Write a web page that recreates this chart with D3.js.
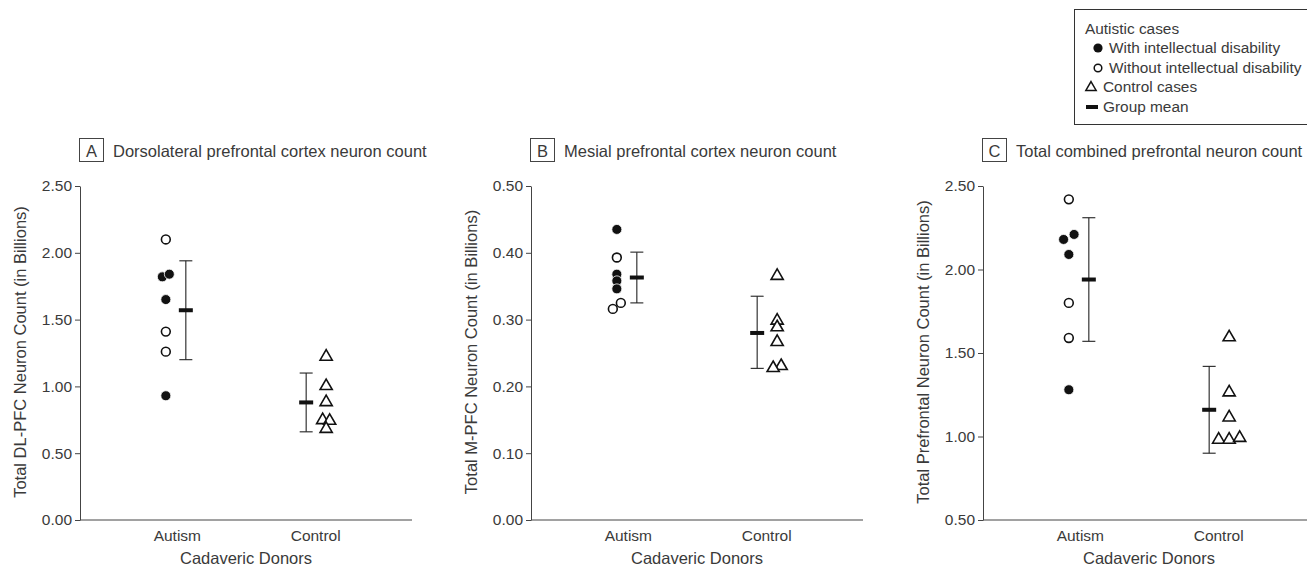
<!DOCTYPE html>
<html>
<head>
<meta charset="utf-8">
<script src="https://cdn.jsdelivr.net/npm/d3@7"></script>
<style>
  html, body { margin: 0; padding: 0; background: #fff; }
  svg { display: block; font-family: "Liberation Sans", Arial, sans-serif; }
</style>
</head>
<body>
<svg id="chart" width="1307" height="569"></svg>
<script>
// ---------- DATA ----------
const groups = ["Autism", "Control"];

// Panel A: Dorsolateral PFC (billions)
const aAutismWithID    = [1.82, 1.84, 1.65, 0.93];
const aAutismWithIDDodge = [-0.5, 0.5, 0, 0];
const aAutismWithoutID = [2.10, 1.41, 1.26];
const aAutismWithoutIDDodge = [0, 0, 0];
const aControl         = [1.23, 1.01, 0.89, 0.755, 0.75, 0.69];
const aControlDodge    = [0, 0, 0, -0.5, 0.5, 0];
const aMean  = [1.57, 0.88];
const aLow   = [1.20, 0.66];
const aHigh  = [1.94, 1.10];

// Panel B: Mesial PFC (billions)
const bAutismWithID    = [0.435, 0.368, 0.358, 0.346];
const bAutismWithIDDodge = [0, 0, 0, 0];
const bAutismWithoutID = [0.393, 0.325, 0.316];
const bAutismWithoutIDDodge = [0, 0.5, -0.5];
const bControl         = [0.367, 0.300, 0.290, 0.268, 0.232, 0.229];
const bControlDodge    = [0, 0, 0, 0, 0.5, -0.5];
const bMean  = [0.363, 0.280];
const bLow   = [0.325, 0.227];
const bHigh  = [0.401, 0.335];

// Panel C: Total combined PFC (billions)
const cAutismWithID    = [2.18, 2.21, 2.09, 1.28];
const cAutismWithIDDodge = [-0.5, 0.5, 0, 0];
const cAutismWithoutID = [2.42, 1.80, 1.59];
const cAutismWithoutIDDodge = [0, 0, 0];
const cControl         = [1.60, 1.27, 1.12, 0.987, 0.987, 0.998];
const cControlDodge    = [0, 0, 0, -1, 0, 1];
const cMean  = [1.94, 1.16];
const cLow   = [1.57, 0.90];
const cHigh  = [2.31, 1.42];

const aTicks = [0.00, 0.50, 1.00, 1.50, 2.00, 2.50];
const bTicks = [0.00, 0.10, 0.20, 0.30, 0.40, 0.50];
const cTicks = [0.50, 1.00, 1.50, 2.00, 2.50];

const titles = ["Dorsolateral prefrontal cortex neuron count",
                "Mesial prefrontal cortex neuron count",
                "Total combined prefrontal neuron count"];
const letters = ["A", "B", "C"];
const yLabels = ["Total DL-PFC Neuron Count (in Billions)",
                 "Total M-PFC Neuron Count (in Billions)",
                 "Total Prefrontal Neuron Count (in Billions)"];
const xLabel = "Cadaveric Donors";

const legendLines = ["Autistic cases", "With intellectual disability",
                     "Without intellectual disability", "Control cases", "Group mean"];

// ---------- LAYOUT ----------
const TEXT = "#3a3a3a";
const AXIS = "#444";
const svg = d3.select("#chart");

const panels = [
  { x0: 80,  domain: [0, 2.5], ticks: aTicks, withID: aAutismWithID, withIDd: aAutismWithIDDodge,
    withoutID: aAutismWithoutID, withoutIDd: aAutismWithoutIDDodge, ctrl: aControl, ctrld: aControlDodge,
    mean: aMean, low: aLow, high: aHigh, ylx: 26, slot: 7 },
  { x0: 531, domain: [0, 0.5], ticks: bTicks, withID: bAutismWithID, withIDd: bAutismWithIDDodge,
    withoutID: bAutismWithoutID, withoutIDd: bAutismWithoutIDDodge, ctrl: bControl, ctrld: bControlDodge,
    mean: bMean, low: bLow, high: bHigh, ylx: 477, slot: 8 },
  { x0: 983, domain: [0.5, 2.5], ticks: cTicks, withID: cAutismWithID, withIDd: cAutismWithIDDodge,
    withoutID: cAutismWithoutID, withoutIDd: cAutismWithoutIDDodge, ctrl: cControl, ctrld: cControlDodge,
    mean: cMean, low: cLow, high: cHigh, ylx: 929, slot: 10.5 }
];

const yTop = 186, yBot = 520, plotW = 332;
const R = 5;
const ptOff = [-11, 11];   // point column offset from category center
const meanOff = [9, -9];   // mean/error bar offset from category center

const tri = d3.symbol().type(d3.symbolTriangle).size(64);

panels.forEach((p, i) => {
  const g = svg.append("g");
  const x = d3.scalePoint().domain(groups).range([p.x0, p.x0 + plotW]).padding(0.7);
  const y = d3.scaleLinear().domain(p.domain).range([yBot, yTop]);

  // y axis
  const yAxis = d3.axisLeft(y).tickValues(p.ticks).tickFormat(d3.format(".2f")).tickSize(5).tickSizeOuter(0);
  const ya = g.append("g").attr("transform", `translate(${p.x0},0)`).call(yAxis);
  ya.select(".domain").attr("stroke", AXIS);
  ya.selectAll(".tick line").attr("stroke", AXIS);
  ya.selectAll(".tick text").attr("fill", TEXT).attr("font-size", 15.5).attr("x", -8)
    .style("font-family", "Liberation Sans, Arial, sans-serif");

  // x axis
  const xAxis = d3.axisBottom(x).tickSize(0).tickSizeOuter(0);
  const xa = g.append("g").attr("transform", `translate(0,${yBot})`).call(xAxis);
  xa.select(".domain").attr("stroke", AXIS).attr("d", `M${p.x0},0H${p.x0 + plotW}`);
  xa.selectAll(".tick text").attr("fill", TEXT).attr("font-size", 15.5).attr("dy", null).attr("y", 21)
    .style("font-family", "Liberation Sans, Arial, sans-serif");

  // x label
  g.append("text").attr("x", p.x0 + plotW / 2).attr("y", 564).attr("text-anchor", "middle")
    .attr("fill", TEXT).attr("font-size", 16.5).text(xLabel);
  // y label
  g.append("text").attr("transform", `translate(${p.ylx},${352}) rotate(-90)`)
    .attr("text-anchor", "middle").attr("fill", TEXT).attr("font-size", 16.5).text(yLabels[i]);

  // title
  g.append("rect").attr("x", p.x0 - 0.5).attr("y", 138.5).attr("width", 24).attr("height", 23)
    .attr("fill", "none").attr("stroke", "#444").attr("stroke-width", 1);
  g.append("text").attr("x", p.x0 + 11.5).attr("y", 156.5).attr("text-anchor", "middle")
    .attr("fill", TEXT).attr("font-size", 16.5).text(letters[i]);
  g.append("text").attr("x", p.x0 + 33).attr("y", 156.5)
    .attr("fill", TEXT).attr("font-size", 16.5).text(titles[i]);

  // error bars + means
  groups.forEach((grp, k) => {
    const cx = x(grp) + meanOff[k];
    g.append("line").attr("x1", cx).attr("x2", cx).attr("y1", y(p.low[k])).attr("y2", y(p.high[k]))
      .attr("stroke", "#222").attr("stroke-width", 1.1);
    [p.low[k], p.high[k]].forEach(v => {
      g.append("line").attr("x1", cx - 6.5).attr("x2", cx + 6.5).attr("y1", y(v)).attr("y2", y(v))
        .attr("stroke", "#222").attr("stroke-width", 1.1);
    });
    g.append("rect").attr("x", cx - 7).attr("y", y(p.mean[k]) - 2).attr("width", 14).attr("height", 4)
      .attr("fill", "#111");
  });

  // autism with ID: filled circles
  const ax = x("Autism") + ptOff[0];
  g.selectAll(".fill").data(p.withID).join("circle")
    .attr("cx", (d, j) => ax + p.withIDd[j] * p.slot).attr("cy", d => y(d)).attr("r", R)
    .attr("fill", "#111").attr("stroke", "#fff").attr("stroke-width", 0.8);
  // autism without ID: open circles
  g.selectAll(".open").data(p.withoutID).join("circle")
    .attr("cx", (d, j) => ax + p.withoutIDd[j] * p.slot).attr("cy", d => y(d)).attr("r", R - 0.6)
    .attr("fill", "#fff").attr("stroke", "#111").attr("stroke-width", 1.6);
  // controls: open triangles
  const cxC = x("Control") + ptOff[1];
  g.selectAll(".tri").data(p.ctrl).join("path")
    .attr("d", tri)
    .attr("transform", (d, j) => `translate(${cxC + p.ctrld[j] * p.slot},${y(d) + 1})`)
    .attr("fill", "#fff").attr("stroke", "#111").attr("stroke-width", 1.6);
});

// ---------- LEGEND ----------
const lg = svg.append("g");
lg.append("rect").attr("x", 1074.5).attr("y", 9.5).attr("width", 240).attr("height", 115)
  .attr("fill", "#fff").attr("stroke", "#333").attr("stroke-width", 1);
const ly = [34, 53, 73, 92, 112];
const lx = [1085, 1109, 1109, 1103, 1103];
legendLines.forEach((t, i) => {
  lg.append("text").attr("x", lx[i]).attr("y", ly[i]).attr("fill", TEXT).attr("font-size", 15.4).text(t);
});
lg.append("circle").attr("cx", 1098).attr("cy", ly[1] - 5).attr("r", 4.6).attr("fill", "#111");
lg.append("circle").attr("cx", 1098).attr("cy", ly[2] - 5).attr("r", 3.8).attr("fill", "#fff")
  .attr("stroke", "#111").attr("stroke-width", 1.5);
lg.append("path").attr("d", d3.symbol().type(d3.symbolTriangle).size(46))
  .attr("transform", `translate(1091,${ly[3] - 4.5})`).attr("fill", "#fff").attr("stroke", "#111").attr("stroke-width", 1.5);
lg.append("rect").attr("x", 1086).attr("y", ly[4] - 7).attr("width", 12).attr("height", 4).attr("fill", "#111");
</script>
</body>
</html>
